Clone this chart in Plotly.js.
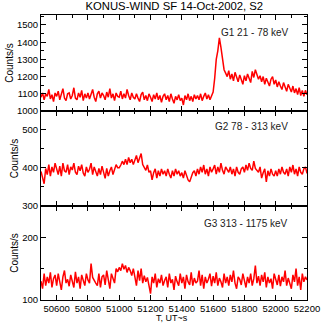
<!DOCTYPE html>
<html>
<head>
<meta charset="utf-8">
<script src="https://cdn.plot.ly/plotly-3.0.1.min.js"></script>
<style>html,body{margin:0;padding:0;background:#fff;}#chart{width:321px;height:323px;}</style>
</head>
<body>
<div id="chart"></div>
<script>
// Time axis: 50500 .. 52200 s, 10 s step
const tStart = 50500, tStep = 10;

const g1 = [
1080,1105,1065,1100,1085,1125,1070,1095,1055,1105,
1085,1115,1065,1095,1130,1075,1060,1100,1105,1070,
1090,1135,1075,1065,1105,1080,1120,1060,1100,1075,
1105,1070,1095,1125,1080,1055,1100,1115,1075,1105,
1090,1065,1110,1080,1130,1075,1100,1060,1105,1085,
1080,1115,1070,1100,1075,1125,1090,1065,1105,1080,
1070,1100,1075,1055,1095,1110,1065,1090,1060,1100,
1080,1055,1095,1070,1105,1065,1090,1050,1085,1100,
1065,1090,1055,1100,1070,1045,1085,1065,1095,1060,
1075,1035,1090,1065,1100,1060,1085,1055,1095,1070,
1090,1065,1100,1060,1085,1105,1070,1095,1065,1090,
1110,1190,1300,1350,1425,1370,1290,1240,1220,1200,
1235,1185,1215,1175,1225,1190,1170,1210,1180,1155,
1205,1175,1215,1185,1165,1230,1195,1240,1210,1185,
1205,1170,1200,1155,1190,1165,1145,1185,1200,1155,
1180,1140,1170,1145,1125,1165,1135,1115,1155,1125,
1110,1145,1105,1130,1095,1135,1090,1120,1085,1120,
1095];

const g2 = [
390,370,358,398,382,408,378,402,388,412,
395,382,404,378,412,392,388,408,382,402,
394,412,388,382,404,392,408,386,378,402,
388,396,412,382,402,388,378,398,382,404,
384,372,398,378,392,402,382,398,408,400,
400,407,417,408,422,408,427,413,422,408,
420,432,413,427,437,408,400,393,407,388,
392,368,387,397,373,392,378,397,383,392,
378,397,383,373,392,378,397,383,392,378,
387,373,392,378,368,363,377,387,392,378,
397,383,402,388,407,383,397,378,402,388,
397,407,383,402,388,412,393,383,402,393,
388,402,383,397,378,402,388,383,397,402,
388,407,393,412,398,393,417,398,393,388,
402,373,387,397,363,392,378,397,383,378,
392,378,397,383,402,388,383,397,378,402,
388,407,383,397,378,402,388,383,397,402,
385];

const g3 = [
130,118,142,123,137,127,144,120,134,140,
123,142,129,116,137,147,127,133,122,140,
130,120,145,127,137,118,140,129,123,142,
132,127,158,136,130,127,123,142,120,137,
140,124,147,129,118,142,134,127,150,145,
152,147,158,149,155,144,152,147,139,150,
137,123,147,131,150,127,139,129,136,123,
110,137,127,142,120,134,127,140,123,131,
137,120,142,127,133,116,138,129,123,142,
127,137,118,140,129,124,144,123,135,127,
130,147,123,140,118,137,127,133,142,122,
138,127,144,123,135,129,120,142,127,137,
123,140,129,147,127,118,137,133,124,142,
130,120,137,127,142,123,134,155,127,138,
123,140,129,144,120,137,127,134,118,142,
133,124,140,122,137,129,147,123,135,127,
118,140,129,150,123,137,116,142,129,137,
132];

const t = g1.map((_, i) => tStart + i * tStep);

const xTickVals = [50600, 50800, 51000, 51200, 51400, 51600, 51800, 52000, 52200];
const titleText = "KONUS-WIND SF 14-Oct-2002, S2";
const xTitle = "T, UT~s";
const yTitle = "Counts/s";
const labels = ["G1 21 - 78 keV", "G2 78 - 313 keV", "G3 313 - 1175 keV"];

const lineStyle = {color: "#ff0000", width: 1.5};
const traces = [
  {x: t, y: g1, xaxis: "x", yaxis: "y", type: "scatter", mode: "lines", line: lineStyle},
  {x: t, y: g2, xaxis: "x2", yaxis: "y2", type: "scatter", mode: "lines", line: lineStyle},
  {x: t, y: g3, xaxis: "x3", yaxis: "y3", type: "scatter", mode: "lines", line: lineStyle}
];

const font = {family: "Liberation Sans, Arial, sans-serif", size: 10, color: "#000"};
const tickFont = {family: "Liberation Sans, Arial, sans-serif", size: 9.5, color: "#000"};
const xBase = {
  range: [50500, 52200],
  tickmode: "array", tickvals: xTickVals, ticktext: xTickVals.map(String),
  ticklabeloverflow: "allow",
  ticks: "inside", ticklen: 5, tickwidth: 1, tickcolor: "#000",
  showline: true, linecolor: "#000", linewidth: 1, mirror: "allticks",
  showgrid: false, zeroline: false,
  minor: {tickmode: "linear", tick0: 50500, dtick: 100, ticks: "inside", ticklen: 3, tickcolor: "#000", showgrid: false},
  tickfont: tickFont
};
function yAx(range, dtick, domain, anchor) {
  return {
    range: range, dtick: dtick, domain: domain, anchor: anchor,
    tickformat: "d",
    ticks: "inside", ticklen: 5, tickwidth: 1, tickcolor: "#000",
    showline: true, linecolor: "#000", linewidth: 1, mirror: "allticks",
    showgrid: false, zeroline: false,
    minor: {dtick: dtick / 2, ticks: "inside", ticklen: 3, tickcolor: "#000", showgrid: false},
    tickfont: tickFont,
    title: {text: yTitle, font: font, standoff: 1}
  };
}

const d1 = 94 / 285, d2 = 189 / 285;
const annFont = {family: font.family, size: 10, color: "#222"};
const layout = {
  width: 321, height: 323,
  margin: {l: 41, r: 14, t: 15, b: 23},
  paper_bgcolor: "#fff", plot_bgcolor: "#fff",
  showlegend: false,
  font: font,
  title: {text: titleText, font: {family: font.family, size: 11.3, color: "#000"}, x: 0.543, xanchor: "center", y: 0.992, yanchor: "top"},
  xaxis: Object.assign({}, xBase, {anchor: "y", showticklabels: false}),
  xaxis2: Object.assign({}, xBase, {anchor: "y2", matches: "x", showticklabels: false}),
  xaxis3: Object.assign({}, xBase, {anchor: "y3", matches: "x"}),
  yaxis: yAx([1000, 1558], 100, [d2, 1], "x"),
  yaxis2: yAx([300, 548], 100, [d1, d2], "x2"),
  yaxis3: yAx([100, 250], 100, [0, d1], "x3"),
  annotations: [
    {text: labels[0], xref: "paper", yref: "paper", x: 0.94, y: 0.9386, xanchor: "right", yanchor: "middle", showarrow: false, font: annFont},
    {text: labels[1], xref: "paper", yref: "paper", x: 0.935, y: 0.6095, xanchor: "right", yanchor: "middle", showarrow: false, font: annFont},
    {text: labels[2], xref: "paper", yref: "paper", x: 0.935, y: 0.2677, xanchor: "right", yanchor: "middle", showarrow: false, font: annFont},
    {text: xTitle, xref: "paper", yref: "paper", x: 0.492, y: -0.062, xanchor: "center", yanchor: "middle", showarrow: false, borderpad: 0, font: {family: font.family, size: 9, color: "#000"}}
  ]
};

Plotly.newPlot("chart", traces, layout, {displayModeBar: false, staticPlot: true});
</script>
</body>
</html>
